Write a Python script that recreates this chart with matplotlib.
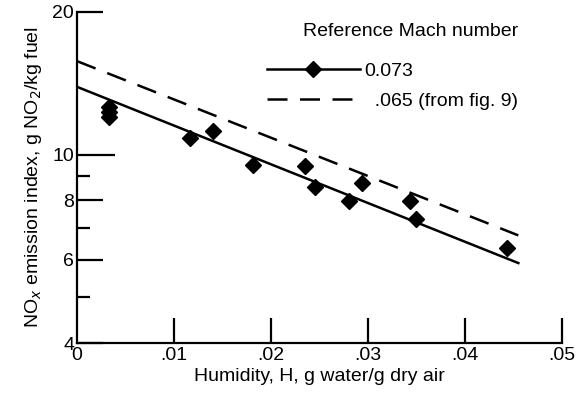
import matplotlib
matplotlib.use("Agg")
import matplotlib.pyplot as plt
from matplotlib.ticker import FixedLocator, NullFormatter

plt.rcParams['font.family'] = ['Liberation Sans', 'DejaVu Sans']

# measured points, Mach 0.073
humidity = [0.0033, 0.0033, 0.0033, 0.0117, 0.0140, 0.0181, 0.0235, 0.0245,
            0.0280, 0.0294, 0.0343, 0.0349, 0.0443]
no_x = [12.6, 12.3, 12.0, 10.85, 11.2, 9.5, 9.45, 8.55,
        7.98, 8.7, 7.98, 7.3, 6.35]

# fitted lines
fit_h = [0.0, 0.0455]
fit_073 = [13.9, 5.9]
fit_065 = [15.75, 6.75]

y_major = [4, 6, 8, 10, 20]
y_minor = [5, 7, 9]
x_ticks = [0.01, 0.02, 0.03, 0.04, 0.05]
x_labels = ['.01', '.02', '.03', '.04', '.05']

fig = plt.figure(figsize=(5.77, 4.0), dpi=100)
ax = fig.add_axes([0.1334, 0.1425, 0.8406, 0.8275])

ax.plot(fit_h, fit_073, color='black', lw=1.8, label='0.073')
ax.plot(humidity, no_x, linestyle='none', marker='D', ms=8, color='black')
ax.plot(fit_h, fit_065, color='black', lw=1.8, linestyle=(0, (8, 5)),
        label='  .065 (from fig. 9)')

ax.set_yscale('log')
ax.set_ylim(4, 20)
ax.set_xlim(0, 0.05)

ax.yaxis.set_major_locator(FixedLocator(y_major))
ax.yaxis.set_minor_locator(FixedLocator(y_minor))
ax.set_yticklabels([str(v) for v in y_major])
ax.yaxis.set_minor_formatter(NullFormatter())
ax.set_xticks([0] + x_ticks)
ax.set_xticklabels(['0'] + x_labels)

ax.tick_params(axis='both', which='both', direction='in', labelsize=14,
               width=1.6, pad=2)
ax.tick_params(axis='y', which='major', length=19)
ax.tick_params(axis='y', which='minor', length=9)
ax.tick_params(axis='x', which='major', length=18, pad=3)
ax.xaxis.get_major_ticks()[0].tick1line.set_visible(False)
# 10 tick is drawn longer
ax.yaxis.get_major_ticks()[3].tick1line.set_markersize(27)

for s in ['top', 'right']:
    ax.spines[s].set_visible(False)
for s in ['left', 'bottom']:
    ax.spines[s].set_linewidth(1.6)

ax.set_xlabel('Humidity, H, g water/g dry air', fontsize=14, labelpad=3)
ax.set_ylabel('NO$_x$ emission index, g NO$_2$/kg fuel', fontsize=14,
              labelpad=6)

leg = ax.legend(title='Reference Mach number', frameon=False, fontsize=14,
                title_fontsize=14, loc='upper left',
                bbox_to_anchor=(0.355, 1.02), handlelength=4.8,
                handletextpad=0.2, labelspacing=0.65)
leg._legend_box.align = 'right'
leg._legend_box.sep = 16
h0 = leg.legend_handles[0]
h0.set_marker('D')
h0.set_markersize(8)
h0.set_markevery([1])

fig.savefig('out.png', dpi=100)
plt.close()
